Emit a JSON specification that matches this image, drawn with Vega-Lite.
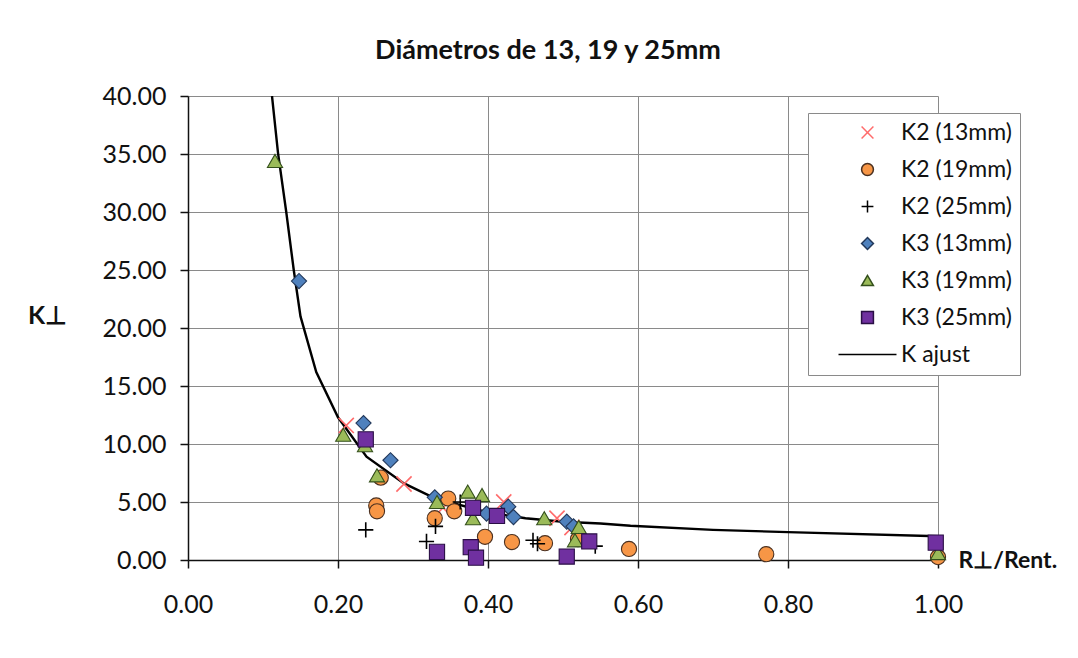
{
  "$schema": "https://vega.github.io/schema/vega-lite/v6.json",
  "width": 750,
  "height": 464,
  "autosize": {"type": "none"},
  "padding": {"left": 188, "top": 96, "right": 140, "bottom": 98},
  "background": "white",
  "title": {"text": "Diámetros de 13, 19 y 25mm", "font": "Lato", "fontSize": 27, "fontWeight": "bold", "color": "#111", "dx": -15, "dy": 38, "offset": 36, "baseline": "alphabetic", "frame": "group"},
  "config": {
    "view": {"stroke": null},
    "axis": {"labelFont": "Lato", "labelFontSize": 25, "labelColor": "#111", "labelFlush": false, "titleFont": "Lato", "titleFontSize": 25, "titleFontWeight": "bold", "titleColor": "#111", "domainColor": "#111", "domainWidth": 1.5, "tickColor": "#111", "tickWidth": 1.5, "tickSize": 8, "gridColor": "#8a8a8a", "gridWidth": 1, "gridOpacity": 1}
  },
  "data": {"values": [
    {"series": "K ajust", "x": 0.112, "y": 40.0},
    {"series": "K ajust", "x": 0.120, "y": 35.1},
    {"series": "K ajust", "x": 0.131, "y": 30.0},
    {"series": "K ajust", "x": 0.141, "y": 25.0},
    {"series": "K ajust", "x": 0.150, "y": 21.0},
    {"series": "K ajust", "x": 0.171, "y": 16.2},
    {"series": "K ajust", "x": 0.200, "y": 12.3},
    {"series": "K ajust", "x": 0.238, "y": 8.9},
    {"series": "K ajust", "x": 0.288, "y": 6.6},
    {"series": "K ajust", "x": 0.330, "y": 5.3},
    {"series": "K ajust", "x": 0.400, "y": 4.1},
    {"series": "K ajust", "x": 0.450, "y": 3.6},
    {"series": "K ajust", "x": 0.500, "y": 3.3},
    {"series": "K ajust", "x": 0.550, "y": 3.15},
    {"series": "K ajust", "x": 0.590, "y": 2.95},
    {"series": "K ajust", "x": 0.700, "y": 2.6},
    {"series": "K ajust", "x": 0.800, "y": 2.4},
    {"series": "K ajust", "x": 1.000, "y": 2.05},

    {"series": "K2 (13mm)", "x": 0.211, "y": 11.6},
    {"series": "K2 (13mm)", "x": 0.288, "y": 6.55},
    {"series": "K2 (13mm)", "x": 0.340, "y": 4.5},
    {"series": "K2 (13mm)", "x": 0.421, "y": 5.0},
    {"series": "K2 (13mm)", "x": 0.492, "y": 3.6},
    {"series": "K2 (13mm)", "x": 0.512, "y": 2.8},

    {"series": "K2 (19mm)", "x": 0.257, "y": 7.1},
    {"series": "K2 (19mm)", "x": 0.251, "y": 4.7},
    {"series": "K2 (19mm)", "x": 0.252, "y": 4.2},
    {"series": "K2 (19mm)", "x": 0.329, "y": 3.6},
    {"series": "K2 (19mm)", "x": 0.347, "y": 5.3},
    {"series": "K2 (19mm)", "x": 0.355, "y": 4.2},
    {"series": "K2 (19mm)", "x": 0.396, "y": 2.0},
    {"series": "K2 (19mm)", "x": 0.432, "y": 1.55},
    {"series": "K2 (19mm)", "x": 0.476, "y": 1.45},
    {"series": "K2 (19mm)", "x": 0.520, "y": 1.8},
    {"series": "K2 (19mm)", "x": 0.588, "y": 0.95},
    {"series": "K2 (19mm)", "x": 0.771, "y": 0.5},
    {"series": "K2 (19mm)", "x": 1.000, "y": 0.25},

    {"series": "K2 (25mm)", "x": 0.237, "y": 2.6},
    {"series": "K2 (25mm)", "x": 0.318, "y": 1.6},
    {"series": "K2 (25mm)", "x": 0.330, "y": 2.9},
    {"series": "K2 (25mm)", "x": 0.363, "y": 5.0},
    {"series": "K2 (25mm)", "x": 0.460, "y": 1.7},
    {"series": "K2 (25mm)", "x": 0.466, "y": 1.4},
    {"series": "K2 (25mm)", "x": 0.543, "y": 1.2},

    {"series": "K3 (13mm)", "x": 0.148, "y": 24.05},
    {"series": "K3 (13mm)", "x": 0.234, "y": 11.8},
    {"series": "K3 (13mm)", "x": 0.270, "y": 8.6},
    {"series": "K3 (13mm)", "x": 0.329, "y": 5.4},
    {"series": "K3 (13mm)", "x": 0.398, "y": 4.0},
    {"series": "K3 (13mm)", "x": 0.427, "y": 4.6},
    {"series": "K3 (13mm)", "x": 0.434, "y": 3.7},
    {"series": "K3 (13mm)", "x": 0.505, "y": 3.3},
    {"series": "K3 (13mm)", "x": 0.514, "y": 2.9},

    {"series": "K3 (19mm)", "x": 0.116, "y": 34.4},
    {"series": "K3 (19mm)", "x": 0.207, "y": 10.8},
    {"series": "K3 (19mm)", "x": 0.236, "y": 9.9},
    {"series": "K3 (19mm)", "x": 0.252, "y": 7.3},
    {"series": "K3 (19mm)", "x": 0.332, "y": 5.0},
    {"series": "K3 (19mm)", "x": 0.373, "y": 5.9},
    {"series": "K3 (19mm)", "x": 0.392, "y": 5.6},
    {"series": "K3 (19mm)", "x": 0.380, "y": 3.6},
    {"series": "K3 (19mm)", "x": 0.475, "y": 3.6},
    {"series": "K3 (19mm)", "x": 0.521, "y": 2.85},
    {"series": "K3 (19mm)", "x": 0.516, "y": 1.7},
    {"series": "K3 (19mm)", "x": 1.000, "y": 0.6},

    {"series": "K3 (25mm)", "x": 0.237, "y": 10.4},
    {"series": "K3 (25mm)", "x": 0.332, "y": 0.7},
    {"series": "K3 (25mm)", "x": 0.380, "y": 4.5},
    {"series": "K3 (25mm)", "x": 0.412, "y": 3.8},
    {"series": "K3 (25mm)", "x": 0.377, "y": 1.1},
    {"series": "K3 (25mm)", "x": 0.384, "y": 0.2},
    {"series": "K3 (25mm)", "x": 0.505, "y": 0.3},
    {"series": "K3 (25mm)", "x": 0.535, "y": 1.6},
    {"series": "K3 (25mm)", "x": 0.997, "y": 1.5}
  ]},
  "encoding": {
    "x": {"field": "x", "type": "quantitative", "scale": {"domain": [0, 1], "nice": false, "zero": false},
      "axis": {"values": [0, 0.2, 0.4, 0.6, 0.8, 1.0], "format": ".2f", "labelPadding": 24, "title": "R⊥/Rent.", "titleX": 770, "titleY": 0, "titleAlign": "left", "titleBaseline": "middle", "titleFontSize": 23}},
    "y": {"field": "y", "type": "quantitative", "scale": {"domain": [0, 40], "nice": false},
      "axis": {"values": [0, 5, 10, 15, 20, 25, 30, 35, 40], "format": ".2f", "labelPadding": 14, "title": "K⊥", "titleAngle": 0, "titleX": -141, "titleY": 219, "titleAlign": "center", "titleBaseline": "middle"}}
  },
  "layer": [
    {
      "transform": [{"filter": "datum.series === 'K ajust'"}],
      "mark": {"type": "line", "strokeWidth": 2.4, "clip": true},
      "encoding": {
        "stroke": {"field": "series", "type": "nominal",
          "scale": {"domain": ["K2 (13mm)", "K2 (19mm)", "K2 (25mm)", "K3 (13mm)", "K3 (19mm)", "K3 (25mm)", "K ajust"],
                    "range": ["#ff6b6b", "#4a3020", "#000000", "#22385a", "#34501c", "#2a0f45", "#000000"]}}
      }
    },
    {
      "transform": [{"filter": "datum.series !== 'K ajust'"}],
      "mark": {"type": "point", "size": 230, "strokeWidth": 1.1, "opacity": 1, "filled": true},
      "encoding": {
        "shape": {"field": "series", "type": "nominal",
          "scale": {"domain": ["K2 (13mm)", "K2 (19mm)", "K2 (25mm)", "K3 (13mm)", "K3 (19mm)", "K3 (25mm)", "K ajust"],
                    "range": ["M-1,-1L1,1M-1,1L1,-1", "circle", "M-1,0L1,0M0,-1L0,1", "diamond", "triangle-up", "square", "M-4.9,0L4.9,0"]},
          "legend": {"title": null, "orient": "none", "legendX": 620, "legendY": 17,
            "values": ["K2 (13mm)", "K2 (19mm)", "K2 (25mm)", "K3 (13mm)", "K3 (19mm)", "K3 (25mm)", "K ajust"],
            "fillColor": "white", "strokeColor": "#8a8a8a", "padding": 8, "symbolOffset": 40,
            "labelFont": "Lato", "labelFontSize": 23, "labelColor": "#111", "labelOffset": 22,
            "symbolSize": 140, "rowPadding": 13, "labelLimit": 300,
            "encode": {"symbols": {"update": {"strokeWidth": {"signal": "datum.value === 'K ajust' ? 2.5 : (datum.value === 'K2 (13mm)' || datum.value === 'K2 (25mm)' ? 1.4 : 1)"}}}}}},
        "fill": {"field": "series", "type": "nominal",
          "scale": {"domain": ["K2 (13mm)", "K2 (19mm)", "K2 (25mm)", "K3 (13mm)", "K3 (19mm)", "K3 (25mm)", "K ajust"],
                    "range": ["transparent", "#f79646", "transparent", "#4f81bd", "#9bbb59", "#7030a0", "transparent"]}},
        "stroke": {"field": "series", "type": "nominal"},
        "strokeWidth": {"condition": {"test": "datum.series === 'K2 (13mm)' || datum.series === 'K2 (25mm)'", "value": 1.6}, "value": 1.1}
      }
    }
  ]
}
